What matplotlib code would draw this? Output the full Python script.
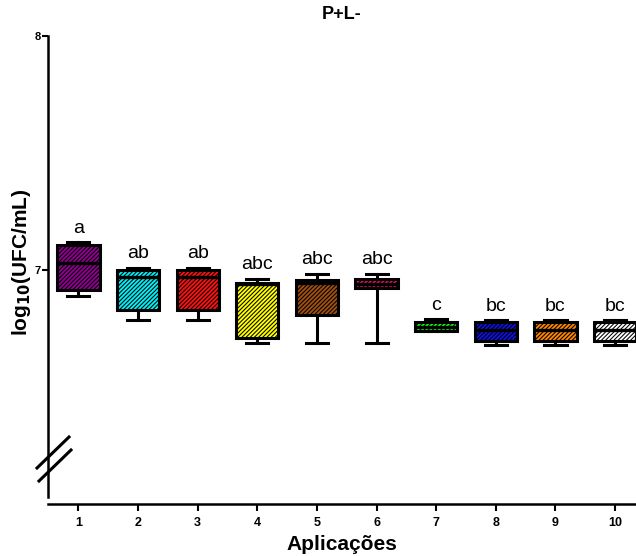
import matplotlib
matplotlib.use("Agg")
import matplotlib.pyplot as plt
from matplotlib.lines import Line2D

plt.rcParams['font.family'] = ['Liberation Sans', 'DejaVu Sans']
plt.rcParams['hatch.linewidth'] = 0.75

# ---- data ----
categories = ['1', '2', '3', '4', '5', '6', '7', '8', '9', '10']
whis_hi = [7.118, 7.010, 7.010, 6.962, 6.983, 6.983, 6.789, 6.785, 6.785, 6.785]
q3      = [7.107, 7.000, 7.000, 6.943, 6.957, 6.960, 6.779, 6.779, 6.779, 6.779]
med     = [7.029, 6.969, 6.971, 6.940, 6.946, 6.940, 6.758, 6.744, 6.744, 6.744]
q1      = [6.915, 6.829, 6.829, 6.708, 6.808, 6.922, 6.741, 6.698, 6.698, 6.698]
whis_lo = [6.888, 6.786, 6.786, 6.689, 6.687, 6.688, 6.740, 6.679, 6.679, 6.679]
letters = ['a', 'ab', 'ab', 'abc', 'abc', 'abc', 'c', 'bc', 'bc', 'bc']
colors = ['#900090', '#00f0f8', '#ff1010', '#ffff00', '#a05010',
          '#e01060', '#10ff10', '#1010e0', '#ff8800', '#ffffff']
title = 'P+L-'
xlabel = 'Aplicações'

W, H = 636, 556
fig = plt.figure(figsize=(W / 100, H / 100), dpi=100)
ax = fig.add_axes([48 / W, 1 - 504 / H, (W - 48) / W, (504 - 36) / H])

stats = []
for i in range(len(categories)):
    stats.append(dict(whislo=whis_lo[i], q1=q1[i], med=med[i], q3=q3[i],
                      whishi=whis_hi[i], label=categories[i]))
positions = list(range(1, len(categories) + 1))
bp = ax.bxp(stats, positions=positions, widths=0.71, patch_artist=True,
            showfliers=False,
            boxprops=dict(linewidth=2.2, edgecolor='black'),
            whiskerprops=dict(linewidth=2.2, color='black'),
            capprops=dict(linewidth=2.2, color='black'),
            medianprops=dict(linewidth=2.4, color='black'),
            capwidths=0.37)
for patch, c in zip(bp['boxes'], colors):
    patch.set_facecolor(c)
    patch.set_hatch('/' * 8)
    patch.set_edgecolor('black')

for x, y, t in zip(positions, whis_hi, letters):
    ax.annotate(t, (x, y), xytext=(0, 4), textcoords='offset points',
                ha='center', va='bottom', fontsize=14)

ax.set_xlim(0.49, 10.35)
ax.set_ylim(6.0, 8.0)
ax.set_yticks([7, 8])
ax.set_yticklabels(['7', '8'], fontsize=8, fontweight='bold')
ax.set_xticks(positions)
ax.set_xticklabels(categories, fontsize=9, fontweight='bold')
ax.tick_params(axis='y', direction='out', length=4, width=1.5, pad=1)
ax.tick_params(axis='x', direction='out', length=5, width=1.5, pad=4)
for s in ['top', 'right']:
    ax.spines[s].set_visible(False)
ax.spines['left'].set_linewidth(1.8)
ax.spines['bottom'].set_linewidth(1.8)
ax.spines['left'].set_bounds(6.03, 8.0)

ax.set_title(title, fontsize=13, fontweight='bold', pad=12)
ax.set_xlabel(xlabel, fontsize=15, fontweight='bold', labelpad=5)
fig.text(22 / W, 1 - 262 / H, r'log$_{\mathbf{10}}$(UFC/mL)', rotation=90,
         fontsize=15, fontweight='bold', ha='center', va='center')

# axis break marks
for (x0, y0, x1, y1) in [(37, 468, 69, 437), (39, 481, 71, 450)]:
    fig.add_artist(Line2D([x0 / W, x1 / W], [1 - y0 / H, 1 - y1 / H],
                          transform=fig.transFigure, color='black', linewidth=2.2))

fig.savefig('out.png', dpi=100)
